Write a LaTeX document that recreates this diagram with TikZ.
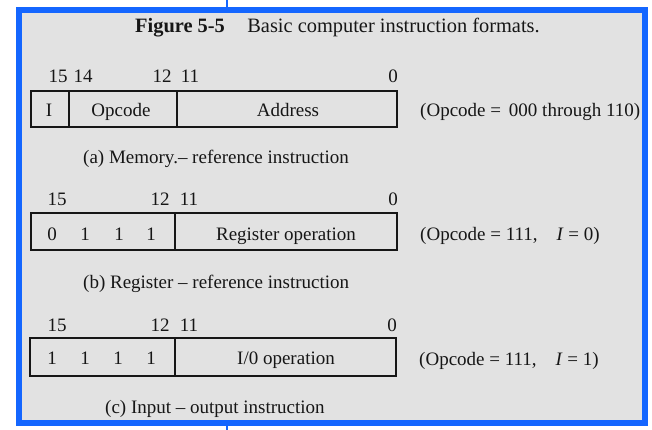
\documentclass[tikz,border=0pt]{standalone}
\usepackage{fontspec}
\setmainfont{Liberation Serif}
\definecolor{bord}{RGB}{20,102,255}
\definecolor{paper}{RGB}{226,226,226}
\definecolor{ink}{RGB}{22,22,22}
\begin{document}
\begin{tikzpicture}[x=1pt,y=-1pt,
  txt/.style={font=\fontsize{19}{21}\selectfont, text=ink, inner sep=0pt, anchor=base},
  txtw/.style={txt, anchor=base west},
  fieldline/.style={draw=ink, line width=1.6pt}]
\useasboundingbox (0,0) rectangle (652,430);
\fill[white] (0,0) rectangle (652,430);
\fill[paper] (19,10) rectangle (645,423);
\draw[bord, line width=6pt] (19,10) rectangle (645,423);
\draw[bord, line width=2pt] (226.5,0) -- (226.5,7);
\draw[bord, line width=2pt] (226.5,426) -- (226.5,430);

% title
\node[txtw, font=\fontsize{20.4}{22}\selectfont] (title) at (135,33)
  {\textbf{Figure 5-5}\hspace{1.1em}Basic computer instruction formats.};

% ---- (a) memory-reference
\node[txt] (a15) at (58,83) {15};
\node[txt] (a14) at (83,83) {14};
\node[txt] (a12) at (162,83) {12};
\node[txt] (a11) at (190,83) {11};
\node[txt] (a0) at (393,83) {0};
\draw[fieldline] (31,91) rectangle (397,127);
\draw[fieldline] (69,91) -- (69,127);
\draw[fieldline] (177,91) -- (177,127);
\node[txt] (aI) at (49,117) {I};
\node[txt] (aop) at (121,117) {Opcode};
\node[txt] (aad) at (288,117) {Address};
\node[txtw] (anote) at (420,117) {(Opcode =\, 000 through 110)};
\node[txtw] (acap) at (83,164) {(a) Memory.– reference instruction};

% ---- (b) register-reference
\node[txt] (b15) at (57,206) {15};
\node[txt] (b12) at (160,206) {12};
\node[txt] (b11) at (189,206) {11};
\node[txt] (b0) at (393,206) {0};
\draw[fieldline] (31,213) rectangle (397,250);
\draw[fieldline] (175,213) -- (175,250);
\node[txt] (bb1) at (52,240) {0};
\node[txt] (bb2) at (85,240) {1};
\node[txt] (bb3) at (119,240) {1};
\node[txt] (bb4) at (151,240) {1};
\node[txt] (bop) at (286,240) {Register operation};
\node[txtw] (bnote) at (420,240) {(Opcode = 111,\hspace{1em}\textit{I} = 0)};
\node[txtw] (bcap) at (83,288) {(b) Register – reference instruction};

% ---- (c) input-output
\node[txt] (c15) at (57,331) {15};
\node[txt] (c12) at (160,331) {12};
\node[txt] (c11) at (189,331) {11};
\node[txt] (c0) at (392,331) {0};
\draw[fieldline] (30,338) rectangle (396,376);
\draw[fieldline] (175,338) -- (175,376);
\node[txt] (cb1) at (52,364) {1};
\node[txt] (cb2) at (85,364) {1};
\node[txt] (cb3) at (118,364) {1};
\node[txt] (cb4) at (151,364) {1};
\node[txt] (cop) at (286,364) {I/0 operation};
\node[txtw] (cnote) at (419,365) {(Opcode = 111,\hspace{1em}\textit{I} = 1)};
\node[txtw] (ccap) at (105,413) {(c) Input – output instruction};
\end{tikzpicture}
\end{document}
